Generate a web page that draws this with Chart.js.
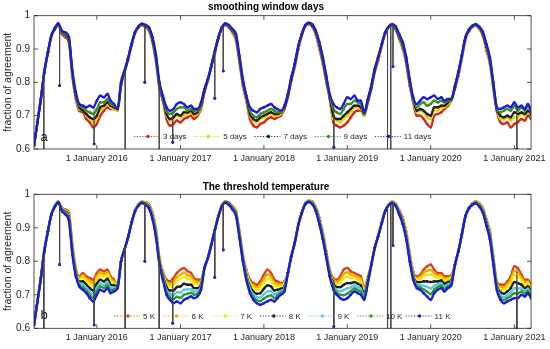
<!doctype html>
<html lang="en">
<head>
<meta charset="utf-8">
<title>fraction of agreement</title>
<script src="https://cdn.jsdelivr.net/npm/chart.js"></script>
<style>
  body { margin: 0; background: #fff; }
  canvas { display: block; }
</style>
</head>
<body>
<canvas id="chartTop" width="550" height="175"></canvas>
<canvas id="chartBottom" width="550" height="174"></canvas>
<script>
// sample dates (half-monthly, plus the odd outlier days)
const dates = [
  '2015-04-01','2015-04-16','2015-05-01','2015-05-14','2015-05-16','2015-06-01','2015-06-16','2015-07-01','2015-07-16','2015-07-22','2015-08-01','2015-08-16','2015-09-01','2015-09-16','2015-10-01','2015-10-16','2015-11-01','2015-11-16','2015-12-01','2015-12-16','2015-12-20',
  '2016-01-01','2016-01-16','2016-02-01','2016-02-16','2016-03-01','2016-03-16','2016-04-01','2016-04-16','2016-05-01','2016-05-04','2016-05-16','2016-06-01','2016-06-16','2016-07-01','2016-07-16','2016-07-29','2016-08-01','2016-08-16','2016-09-01','2016-09-16','2016-09-30','2016-10-01','2016-10-16','2016-11-01','2016-11-16','2016-11-28','2016-12-01','2016-12-16',
  '2017-01-01','2017-01-16','2017-02-01','2017-02-16','2017-03-01','2017-03-16','2017-04-01','2017-04-16','2017-05-01','2017-05-16','2017-05-31','2017-06-01','2017-06-16','2017-07-01','2017-07-07','2017-07-16','2017-08-01','2017-08-16','2017-09-01','2017-09-16','2017-10-01','2017-10-16','2017-11-01','2017-11-16','2017-12-01','2017-12-16',
  '2018-01-01','2018-01-16','2018-02-01','2018-02-16','2018-03-01','2018-03-16','2018-04-01','2018-04-16','2018-05-01','2018-05-16','2018-06-01','2018-06-16','2018-07-01','2018-07-16','2018-08-01','2018-08-16','2018-09-01','2018-09-16','2018-10-01','2018-10-16','2018-11-01','2018-11-03','2018-11-16','2018-12-01','2018-12-16',
  '2019-01-01','2019-01-16','2019-02-01','2019-02-16','2019-03-01','2019-03-16','2019-04-01','2019-04-16','2019-05-01','2019-05-16','2019-06-01','2019-06-16','2019-06-26','2019-07-10','2019-07-16','2019-07-20','2019-08-01','2019-08-16','2019-09-01','2019-09-16','2019-10-01','2019-10-16','2019-11-01','2019-11-16','2019-12-01','2019-12-16',
  '2020-01-01','2020-01-16','2020-02-01','2020-02-16','2020-03-01','2020-03-16','2020-04-01','2020-04-16','2020-05-01','2020-05-16','2020-06-01','2020-06-16','2020-07-01','2020-07-16','2020-08-01','2020-08-16','2020-09-01','2020-09-16','2020-10-01','2020-10-16','2020-11-01','2020-11-16','2020-12-01','2020-12-16',
  '2021-01-01','2021-01-12','2021-01-16','2021-02-01','2021-02-16','2021-03-01','2021-03-15'
];
const axisStart = '2015-04-01';
const axisEnd = '2021-03-15';
const yearTicks = [2016, 2017, 2018, 2019, 2020, 2021];
const yTicks = [0.6, 0.7, 0.8, 0.9, 1];

// (a) smoothing window days
const days3 = [
  0.61,0.68,0.75,0.55,0.83,0.89,0.94,0.958,0.972,0.79,0.945,0.935,0.918,0.815,0.75,0.715,0.71,0.69,0.68,0.665,0.615,
  0.675,0.70,0.715,0.725,0.72,0.72,0.715,0.79,0.83,0.45,0.865,0.91,0.948,0.964,0.972,0.80,0.964,0.955,0.918,0.86,0.55,0.78,0.745,0.69,0.67,0.62,0.675,0.685,
  0.68,0.69,0.695,0.70,0.69,0.70,0.72,0.77,0.805,0.845,0.752,0.89,0.932,0.96,0.834,0.972,0.964,0.95,0.925,0.86,0.79,0.745,0.69,0.67,0.665,0.675,
  0.68,0.69,0.695,0.69,0.695,0.70,0.72,0.755,0.805,0.845,0.90,0.94,0.968,0.974,0.966,0.944,0.90,0.855,0.80,0.75,0.68,0.605,0.67,0.665,0.67,
  0.68,0.695,0.71,0.715,0.715,0.70,0.74,0.78,0.83,0.865,0.91,0.946,0.2,0.2,0.97,0.847,0.958,0.93,0.90,0.855,0.79,0.74,0.70,0.70,0.69,0.675,
  0.665,0.70,0.705,0.71,0.72,0.73,0.745,0.78,0.82,0.87,0.928,0.953,0.966,0.97,0.96,0.94,0.895,0.855,0.78,0.715,0.68,0.675,0.68,0.665,
  0.675,0.6,0.68,0.69,0.685,0.70,0.69
];
const days5 = [
  0.61,0.68,0.75,0.55,0.83,0.89,0.94,0.96,0.973,0.79,0.948,0.94,0.922,0.82,0.755,0.72,0.715,0.70,0.69,0.68,0.615,
  0.69,0.715,0.725,0.735,0.725,0.72,0.715,0.795,0.83,0.45,0.87,0.915,0.95,0.965,0.973,0.80,0.966,0.957,0.92,0.865,0.55,0.785,0.75,0.70,0.685,0.62,0.69,0.70,
  0.695,0.70,0.705,0.71,0.70,0.705,0.725,0.775,0.81,0.85,0.752,0.895,0.935,0.962,0.834,0.973,0.966,0.953,0.93,0.865,0.795,0.75,0.70,0.685,0.68,0.69,
  0.695,0.70,0.705,0.70,0.70,0.705,0.725,0.76,0.81,0.85,0.905,0.943,0.969,0.975,0.968,0.947,0.905,0.86,0.805,0.755,0.69,0.605,0.685,0.68,0.69,
  0.70,0.71,0.725,0.725,0.72,0.70,0.745,0.785,0.835,0.87,0.91,0.948,0.2,0.2,0.971,0.847,0.96,0.935,0.905,0.86,0.795,0.745,0.71,0.715,0.71,0.695,
  0.69,0.715,0.715,0.725,0.725,0.735,0.745,0.785,0.825,0.875,0.93,0.955,0.967,0.971,0.961,0.943,0.90,0.86,0.785,0.72,0.69,0.69,0.695,0.685,
  0.695,0.6,0.695,0.705,0.70,0.71,0.70
];
const days7 = [
  0.61,0.68,0.75,0.55,0.83,0.89,0.94,0.96,0.974,0.79,0.95,0.942,0.925,0.825,0.76,0.725,0.715,0.705,0.695,0.69,0.615,
  0.70,0.725,0.73,0.74,0.73,0.725,0.72,0.795,0.83,0.45,0.87,0.915,0.95,0.966,0.974,0.80,0.968,0.96,0.925,0.87,0.55,0.79,0.75,0.705,0.69,0.62,0.695,0.705,
  0.70,0.71,0.71,0.715,0.705,0.71,0.73,0.775,0.81,0.85,0.752,0.895,0.935,0.963,0.834,0.974,0.968,0.955,0.935,0.87,0.80,0.755,0.705,0.69,0.685,0.695,
  0.70,0.705,0.71,0.705,0.705,0.71,0.725,0.76,0.81,0.855,0.91,0.945,0.97,0.976,0.97,0.95,0.91,0.865,0.81,0.755,0.70,0.605,0.69,0.69,0.70,
  0.71,0.72,0.73,0.73,0.725,0.705,0.745,0.785,0.835,0.875,0.915,0.95,0.2,0.2,0.972,0.847,0.962,0.937,0.91,0.865,0.80,0.75,0.715,0.72,0.715,0.705,
  0.70,0.725,0.725,0.73,0.73,0.74,0.75,0.785,0.83,0.88,0.935,0.956,0.968,0.972,0.963,0.945,0.905,0.865,0.79,0.72,0.70,0.695,0.70,0.695,
  0.71,0.6,0.705,0.71,0.705,0.715,0.705
];
const days9 = [
  0.61,0.68,0.75,0.55,0.83,0.89,0.94,0.962,0.975,0.79,0.952,0.945,0.93,0.83,0.765,0.73,0.725,0.715,0.71,0.705,0.615,
  0.72,0.74,0.74,0.75,0.735,0.73,0.72,0.80,0.835,0.45,0.87,0.915,0.95,0.967,0.975,0.80,0.97,0.962,0.93,0.875,0.55,0.795,0.755,0.715,0.705,0.62,0.71,0.72,
  0.725,0.725,0.715,0.72,0.715,0.715,0.735,0.78,0.81,0.85,0.752,0.895,0.935,0.964,0.834,0.975,0.97,0.957,0.94,0.875,0.805,0.76,0.715,0.70,0.695,0.705,
  0.71,0.715,0.72,0.715,0.71,0.71,0.73,0.765,0.815,0.855,0.91,0.945,0.971,0.977,0.972,0.952,0.915,0.87,0.815,0.76,0.72,0.605,0.71,0.705,0.72,
  0.735,0.735,0.745,0.74,0.735,0.705,0.75,0.79,0.84,0.875,0.915,0.95,0.2,0.2,0.973,0.847,0.965,0.94,0.915,0.87,0.805,0.75,0.725,0.735,0.74,0.73,
  0.735,0.745,0.74,0.745,0.74,0.745,0.75,0.79,0.83,0.88,0.935,0.957,0.969,0.973,0.965,0.948,0.91,0.87,0.795,0.725,0.71,0.715,0.72,0.715,
  0.73,0.6,0.715,0.725,0.715,0.73,0.71
];
const days11 = [
  0.61,0.68,0.75,0.55,0.83,0.89,0.94,0.963,0.977,0.79,0.955,0.95,0.935,0.835,0.77,0.735,0.73,0.725,0.73,0.725,0.615,
  0.745,0.76,0.755,0.765,0.745,0.735,0.72,0.80,0.835,0.45,0.87,0.915,0.95,0.968,0.976,0.80,0.972,0.965,0.935,0.88,0.55,0.80,0.76,0.725,0.715,0.62,0.72,0.735,
  0.74,0.735,0.725,0.73,0.72,0.72,0.74,0.78,0.81,0.85,0.752,0.895,0.935,0.965,0.834,0.977,0.972,0.96,0.945,0.88,0.81,0.76,0.725,0.715,0.71,0.72,
  0.725,0.73,0.735,0.725,0.72,0.715,0.73,0.765,0.815,0.855,0.91,0.945,0.972,0.979,0.974,0.955,0.92,0.875,0.82,0.765,0.735,0.605,0.725,0.72,0.735,
  0.755,0.75,0.76,0.745,0.745,0.71,0.75,0.79,0.84,0.875,0.915,0.95,0.2,0.2,0.975,0.847,0.968,0.945,0.92,0.875,0.81,0.755,0.735,0.745,0.755,0.75,
  0.755,0.76,0.75,0.755,0.745,0.75,0.75,0.79,0.83,0.88,0.935,0.958,0.97,0.975,0.967,0.952,0.915,0.875,0.80,0.725,0.72,0.725,0.73,0.725,
  0.74,0.6,0.725,0.73,0.72,0.735,0.715
];

// (b) threshold temperature
const k5 = [
  0.61,0.68,0.75,0.55,0.83,0.89,0.94,0.965,0.978,0.79,0.96,0.955,0.945,0.85,0.78,0.755,0.765,0.755,0.75,0.745,0.61,
  0.765,0.775,0.77,0.775,0.755,0.745,0.73,0.80,0.835,0.45,0.87,0.915,0.95,0.97,0.978,0.80,0.976,0.97,0.945,0.895,0.55,0.81,0.77,0.745,0.74,0.615,0.75,0.765,
  0.775,0.78,0.77,0.765,0.75,0.745,0.745,0.78,0.81,0.85,0.752,0.895,0.935,0.967,0.834,0.979,0.975,0.965,0.95,0.89,0.82,0.775,0.745,0.735,0.73,0.74,
  0.76,0.775,0.765,0.745,0.74,0.735,0.74,0.765,0.815,0.855,0.91,0.945,0.974,0.981,0.978,0.962,0.93,0.885,0.83,0.775,0.75,0.605,0.745,0.755,0.775,
  0.78,0.77,0.765,0.76,0.755,0.72,0.755,0.79,0.84,0.875,0.915,0.95,0.2,0.2,0.978,0.847,0.972,0.953,0.93,0.888,0.825,0.77,0.755,0.76,0.775,0.785,
  0.79,0.775,0.765,0.765,0.755,0.755,0.76,0.79,0.83,0.88,0.935,0.958,0.973,0.979,0.973,0.96,0.925,0.89,0.815,0.74,0.73,0.73,0.74,0.755,
  0.785,0.6,0.78,0.76,0.745,0.745,0.73
];
const k6 = [
  0.61,0.68,0.75,0.55,0.83,0.89,0.94,0.965,0.978,0.79,0.958,0.952,0.94,0.845,0.775,0.751,0.758,0.748,0.741,0.735,0.61,
  0.755,0.766,0.761,0.767,0.748,0.74,0.729,0.80,0.835,0.45,0.87,0.915,0.95,0.97,0.977,0.80,0.975,0.968,0.942,0.892,0.55,0.807,0.766,0.738,0.732,0.615,0.739,0.752,
  0.76,0.766,0.758,0.755,0.741,0.738,0.741,0.78,0.81,0.85,0.752,0.895,0.935,0.967,0.834,0.978,0.974,0.964,0.948,0.887,0.817,0.771,0.739,0.728,0.722,0.73,
  0.747,0.761,0.753,0.735,0.733,0.73,0.736,0.765,0.815,0.855,0.91,0.945,0.974,0.98,0.977,0.96,0.927,0.882,0.827,0.772,0.745,0.605,0.738,0.745,0.762,
  0.767,0.76,0.757,0.752,0.747,0.715,0.752,0.79,0.84,0.875,0.915,0.95,0.2,0.2,0.977,0.847,0.971,0.951,0.927,0.885,0.821,0.766,0.75,0.753,0.765,0.772,
  0.774,0.765,0.758,0.758,0.748,0.75,0.756,0.79,0.83,0.88,0.935,0.958,0.972,0.978,0.972,0.958,0.922,0.886,0.811,0.736,0.723,0.722,0.731,0.745,
  0.771,0.6,0.767,0.751,0.738,0.739,0.724
];
const k7 = [
  0.61,0.68,0.75,0.55,0.83,0.89,0.94,0.964,0.977,0.79,0.957,0.95,0.937,0.84,0.772,0.747,0.751,0.741,0.733,0.727,0.61,
  0.747,0.758,0.753,0.76,0.741,0.735,0.727,0.80,0.835,0.45,0.87,0.915,0.95,0.969,0.977,0.80,0.974,0.966,0.94,0.888,0.55,0.804,0.763,0.732,0.725,0.615,0.729,0.741,
  0.747,0.753,0.748,0.745,0.733,0.731,0.737,0.78,0.81,0.85,0.752,0.895,0.935,0.966,0.834,0.978,0.973,0.962,0.946,0.884,0.814,0.767,0.734,0.721,0.715,0.72,
  0.736,0.748,0.743,0.727,0.726,0.725,0.732,0.765,0.815,0.855,0.91,0.945,0.973,0.98,0.976,0.958,0.924,0.879,0.824,0.769,0.74,0.605,0.732,0.737,0.75,
  0.755,0.75,0.75,0.745,0.74,0.71,0.749,0.79,0.84,0.875,0.915,0.95,0.2,0.2,0.976,0.847,0.97,0.949,0.924,0.881,0.817,0.763,0.745,0.747,0.755,0.76,
  0.761,0.755,0.751,0.752,0.742,0.745,0.752,0.79,0.83,0.88,0.935,0.958,0.971,0.977,0.97,0.955,0.918,0.882,0.807,0.733,0.717,0.715,0.723,0.735,
  0.758,0.6,0.755,0.743,0.731,0.734,0.719
];
const k8 = [
  0.61,0.68,0.75,0.55,0.83,0.89,0.94,0.964,0.977,0.79,0.955,0.948,0.933,0.835,0.768,0.74,0.74,0.73,0.72,0.713,0.61,
  0.733,0.745,0.74,0.748,0.73,0.728,0.725,0.80,0.835,0.45,0.87,0.915,0.95,0.968,0.976,0.80,0.972,0.964,0.935,0.882,0.55,0.80,0.758,0.723,0.713,0.615,0.713,0.723,
  0.725,0.733,0.73,0.73,0.72,0.72,0.73,0.78,0.81,0.85,0.752,0.895,0.935,0.965,0.834,0.977,0.972,0.96,0.943,0.88,0.81,0.76,0.725,0.71,0.703,0.705,
  0.718,0.728,0.725,0.713,0.715,0.718,0.725,0.765,0.815,0.855,0.91,0.945,0.972,0.979,0.974,0.956,0.92,0.875,0.82,0.765,0.733,0.605,0.723,0.723,0.73,
  0.735,0.735,0.738,0.733,0.728,0.703,0.745,0.79,0.84,0.875,0.915,0.95,0.2,0.2,0.975,0.847,0.968,0.946,0.92,0.876,0.812,0.758,0.738,0.738,0.74,0.74,
  0.738,0.74,0.74,0.743,0.733,0.738,0.745,0.79,0.83,0.88,0.935,0.958,0.97,0.976,0.968,0.952,0.915,0.877,0.802,0.728,0.708,0.703,0.71,0.72,
  0.738,0.6,0.735,0.73,0.72,0.725,0.71
];
const k9 = [
  0.61,0.68,0.75,0.55,0.83,0.89,0.94,0.963,0.976,0.79,0.953,0.945,0.928,0.83,0.763,0.735,0.731,0.721,0.709,0.701,0.61,
  0.721,0.734,0.729,0.738,0.721,0.721,0.723,0.80,0.835,0.45,0.87,0.915,0.95,0.967,0.975,0.80,0.97,0.962,0.932,0.878,0.55,0.797,0.753,0.714,0.703,0.615,0.699,0.707,
  0.707,0.715,0.716,0.717,0.709,0.711,0.725,0.78,0.81,0.85,0.752,0.895,0.935,0.964,0.834,0.976,0.97,0.958,0.94,0.876,0.806,0.755,0.718,0.701,0.693,0.692,
  0.702,0.71,0.711,0.701,0.706,0.711,0.72,0.765,0.815,0.855,0.91,0.945,0.971,0.978,0.973,0.954,0.916,0.871,0.816,0.761,0.726,0.605,0.714,0.711,0.714,
  0.719,0.722,0.728,0.723,0.718,0.696,0.741,0.79,0.84,0.875,0.915,0.95,0.2,0.2,0.974,0.847,0.967,0.944,0.916,0.872,0.808,0.753,0.731,0.729,0.727,0.724,
  0.719,0.727,0.731,0.734,0.724,0.731,0.74,0.79,0.83,0.88,0.935,0.958,0.969,0.975,0.966,0.95,0.911,0.872,0.798,0.723,0.699,0.693,0.699,0.707,
  0.72,0.6,0.719,0.719,0.711,0.718,0.703
];
const k10 = [
  0.61,0.68,0.75,0.55,0.83,0.89,0.94,0.963,0.976,0.79,0.952,0.942,0.924,0.825,0.76,0.73,0.723,0.713,0.70,0.69,0.61,
  0.71,0.725,0.72,0.729,0.713,0.716,0.722,0.80,0.835,0.45,0.87,0.915,0.95,0.967,0.975,0.80,0.969,0.96,0.928,0.874,0.55,0.793,0.749,0.707,0.694,0.615,0.687,0.694,
  0.691,0.70,0.703,0.706,0.70,0.703,0.72,0.78,0.81,0.85,0.752,0.895,0.935,0.964,0.834,0.976,0.969,0.957,0.938,0.873,0.803,0.75,0.711,0.693,0.684,0.681,
  0.689,0.695,0.698,0.69,0.698,0.706,0.715,0.765,0.815,0.855,0.91,0.945,0.971,0.978,0.972,0.952,0.913,0.868,0.813,0.758,0.721,0.605,0.707,0.70,0.699,
  0.704,0.711,0.719,0.714,0.709,0.691,0.738,0.79,0.84,0.875,0.915,0.95,0.2,0.2,0.974,0.847,0.966,0.942,0.913,0.868,0.804,0.749,0.726,0.722,0.716,0.709,
  0.702,0.716,0.723,0.727,0.717,0.726,0.735,0.79,0.83,0.88,0.935,0.958,0.969,0.974,0.965,0.948,0.908,0.868,0.794,0.719,0.692,0.684,0.69,0.696,
  0.705,0.6,0.704,0.71,0.703,0.711,0.696
];
const k11 = [
  0.61,0.68,0.75,0.55,0.83,0.89,0.94,0.962,0.975,0.79,0.95,0.94,0.92,0.82,0.755,0.725,0.715,0.705,0.69,0.68,0.61,
  0.70,0.715,0.71,0.72,0.705,0.71,0.72,0.80,0.835,0.45,0.87,0.915,0.95,0.966,0.974,0.80,0.968,0.958,0.925,0.87,0.55,0.79,0.745,0.70,0.685,0.615,0.675,0.68,
  0.675,0.685,0.69,0.695,0.69,0.695,0.715,0.78,0.81,0.85,0.752,0.895,0.935,0.963,0.834,0.975,0.968,0.955,0.935,0.87,0.80,0.745,0.705,0.685,0.675,0.67,
  0.675,0.68,0.685,0.68,0.69,0.70,0.71,0.765,0.815,0.855,0.91,0.945,0.97,0.977,0.97,0.95,0.91,0.865,0.81,0.755,0.715,0.605,0.70,0.69,0.685,
  0.69,0.70,0.71,0.705,0.70,0.685,0.735,0.79,0.84,0.875,0.915,0.95,0.2,0.2,0.973,0.847,0.965,0.94,0.91,0.865,0.80,0.745,0.72,0.715,0.705,0.695,
  0.685,0.705,0.715,0.72,0.71,0.72,0.73,0.79,0.83,0.88,0.935,0.958,0.968,0.973,0.963,0.945,0.905,0.865,0.79,0.715,0.685,0.675,0.68,0.685,
  0.69,0.6,0.69,0.70,0.695,0.705,0.69
];

Chart.defaults.font.family = "'Liberation Sans', Arial, Helvetica, sans-serif";
Chart.defaults.color = '#262626';

const day = s => Date.parse(s) / 86400000;

// a point is an outlier (drawn as a thin drop line) when it falls far below both neighbours
function spikeAt(v, i) {
  if (v[i] < 0.6) return true;
  if (i <= 0 || i >= v.length - 1) return false;
  return v[i - 1] - v[i] > 0.045 && v[i + 1] - v[i] > 0.045;
}

// drop lines for outliers, box, inward ticks, legend inside the axes and the panel letter
const framePlugin = {
  id: 'frame',
  afterDatasetsDraw(chart, args, opts) {
    const {ctx, chartArea: a, scales} = chart;
    const xs = scales.x, ys = scales.y;
    ctx.save();

    // outliers: thin line from the curve down to the outlying value
    ctx.beginPath();
    ctx.rect(a.left, a.top, a.right - a.left, a.bottom - a.top);
    ctx.clip();
    chart.data.datasets.forEach(ds => {
      const v = ds.rawValues;
      v.forEach((val, i) => {
        if (!spikeAt(v, i)) return;
        let j = i - 1, k = i + 1;
        while (j >= 0 && spikeAt(v, j)) j--;
        while (k < v.length && spikeAt(v, k)) k++;
        const tx = day(dates[i]);
        let base = val;
        if (j >= 0 && k < v.length) {
          const xj = day(dates[j]), xk = day(dates[k]);
          base = v[j] + (v[k] - v[j]) * (tx - xj) / (xk - xj);
        }
        const px = xs.getPixelForValue(tx);
        ctx.strokeStyle = 'rgba(70,70,70,0.85)';
        ctx.lineWidth = 0.7;
        ctx.beginPath();
        ctx.moveTo(px, ys.getPixelForValue(base));
        ctx.lineTo(px, ys.getPixelForValue(val));
        ctx.stroke();
        ctx.fillStyle = ds.borderColor;
        ctx.beginPath();
        ctx.arc(px, ys.getPixelForValue(val), 1.3, 0, Math.PI * 2);
        ctx.fill();
      });
    });
    ctx.restore();
    ctx.save();

    ctx.strokeStyle = '#262626';
    ctx.lineWidth = 0.8;
    ctx.strokeRect(a.left, a.top, a.right - a.left, a.bottom - a.top);
    ctx.beginPath();
    xs.ticks.forEach(t => {
      const px = xs.getPixelForValue(t.value);
      ctx.moveTo(px, a.bottom); ctx.lineTo(px, a.bottom - 4);
      ctx.moveTo(px, a.top); ctx.lineTo(px, a.top + 4);
    });
    ys.ticks.forEach(t => {
      const py = ys.getPixelForValue(t.value);
      ctx.moveTo(a.left, py); ctx.lineTo(a.left + 4, py);
      ctx.moveTo(a.right, py); ctx.lineTo(a.right - 4, py);
    });
    ctx.stroke();

    // legend
    ctx.font = "8px 'Liberation Sans', Arial, sans-serif";
    ctx.textBaseline = 'middle';
    ctx.textAlign = 'left';
    chart.data.datasets.forEach((ds, i) => {
      const mx = opts.legendX + i * opts.legendStep;
      const my = opts.legendY;
      ctx.setLineDash([1.2, 1.6]);
      ctx.strokeStyle = ds.borderColor;
      ctx.lineWidth = 0.9;
      ctx.beginPath();
      ctx.moveTo(mx - 14, my); ctx.lineTo(mx + 12, my);
      ctx.stroke();
      ctx.setLineDash([]);
      ctx.fillStyle = ds.borderColor;
      ctx.beginPath();
      ctx.arc(mx, my, 1.7, 0, Math.PI * 2);
      ctx.fill();
      ctx.fillStyle = '#262626';
      ctx.fillText(ds.label, mx + 15, my + 0.5);
    });

    ctx.font = "13px 'Liberation Sans', Arial, sans-serif";
    ctx.textBaseline = 'alphabetic';
    ctx.fillStyle = '#1a1a1a';
    ctx.fillText(opts.letter, a.left + 6.5, opts.letterY);
    ctx.restore();
  }
};

function makeChart(id, cfg) {
  const n = cfg.series.length;
  const datasets = cfg.series.map((s, k) => ({
    label: s.label,
    rawValues: s.values,
    // outliers are left out of the line itself and drawn as drop lines by the plugin
    data: dates.map((d, i) => ({x: day(d), y: spikeAt(s.values, i) ? null : s.values[i]})),
    spanGaps: true,
    borderColor: s.color,
    backgroundColor: s.color,
    borderWidth: 2.3,
    pointRadius: 1.3,
    pointBorderWidth: 0,
    pointHoverRadius: 0,
    cubicInterpolationMode: 'monotone',
    order: n - 1 - k
  }));

  return new Chart(document.getElementById(id), {
    type: 'line',
    data: {datasets},
    plugins: [framePlugin],
    options: {
      responsive: false,
      animation: false,
      events: [],
      layout: {padding: {left: 0, right: 18, top: 0, bottom: 0}},
      plugins: {
        legend: {display: false},
        tooltip: {enabled: false},
        title: {
          display: true,
          text: cfg.title,
          color: '#000',
          font: {size: 10, weight: 'bold'},
          padding: {top: cfg.titleTop, bottom: cfg.titleBottom}
        },
        frame: {
          legendX: cfg.legendX, legendStep: cfg.legendStep, legendY: cfg.legendY,
          letter: cfg.letter, letterY: cfg.letterY
        }
      },
      scales: {
        x: {
          type: 'linear',
          min: day(axisStart),
          max: day(axisEnd),
          grid: {display: false, drawTicks: false},
          border: {display: false},
          afterBuildTicks: sc => { sc.ticks = yearTicks.map(y => ({value: day(y + '-01-01')})); },
          afterFit: sc => { sc.height = cfg.xHeight; },
          ticks: {
            autoSkip: false, maxRotation: 0, padding: 4,
            font: {size: 9}, color: '#262626',
            callback: v => '1 January ' + new Date(v * 86400000).getUTCFullYear()
          }
        },
        y: {
          min: 0.6,
          max: 1,
          grid: {display: false, drawTicks: false},
          border: {display: false},
          afterBuildTicks: sc => { sc.ticks = yTicks.map(v => ({value: v})); },
          afterFit: sc => { sc.width = 34; },
          ticks: {padding: 4, font: {size: 10}, color: '#262626', callback: v => String(+v.toFixed(1))},
          title: {
            display: true, text: 'fraction of agreement',
            font: {size: 10.5}, color: '#262626', padding: {top: 2, bottom: 0}
          }
        }
      }
    }
  });
}

makeChart('chartTop', {
  title: 'smoothing window days',
  titleTop: 1.5, titleBottom: 2.2, xHeight: 26,
  legendX: 148, legendStep: 60.2, legendY: 136.5,
  letter: 'a', letterY: 141,
  series: [
    {label: '3 days', values: days3, color: '#d8261a'},
    {label: '5 days', values: days5, color: '#f0d200'},
    {label: '7 days', values: days7, color: '#1e1e1e'},
    {label: '9 days', values: days9, color: '#3d8f1f'},
    {label: '11 days', values: days11, color: '#1a1ae0'}
  ]
});

makeChart('chartBottom', {
  title: 'The threshold temperature',
  titleTop: 5.8, titleBottom: 1.5, xHeight: 20.7,
  legendX: 128, legendStep: 48.6, legendY: 141,
  letter: 'b', letterY: 143.5,
  series: [
    {label: '5 K', values: k5, color: '#e0401a'},
    {label: '6 K', values: k6, color: '#e8b000'},
    {label: '7 K', values: k7, color: '#f5e800'},
    {label: '8 K', values: k8, color: '#1e1e1e'},
    {label: '9 K', values: k9, color: '#5cc6e6'},
    {label: '10 K', values: k10, color: '#2e9a2e'},
    {label: '11 K', values: k11, color: '#1a1ae0'}
  ]
});
</script>
</body>
</html>
